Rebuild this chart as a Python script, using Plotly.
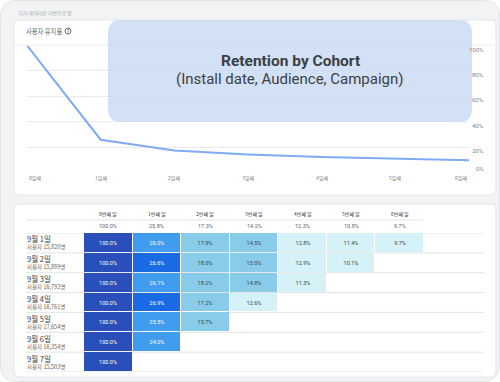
import plotly.graph_objects as go

# ---------------- data ----------------
day_ticks = ["0일째", "1일째", "2일째", "3일째", "4일째", "5일째", "6일째"]
day_cols = ["0번째 일", "1번째 일", "2번째 일", "3번째 일", "4번째 일", "5번째 일", "6번째 일"]
overall = [100.0, 25.8, 17.3, 14.2, 12.3, 10.8, 9.7]
cohort_dates = ["9월 1일", "9월 2일", "9월 3일", "9월 4일", "9월 5일", "9월 6일", "9월 7일"]
cohort_users = ["사용자 15,820명", "사용자 15,889명", "사용자 16,792명", "사용자 16,761명",
                "사용자 17,654명", "사용자 16,354명", "사용자 15,503명"]
row1 = [100.0, 26.0, 17.9, 14.5, 12.8, 11.4, 9.7]
row2 = [100.0, 26.6, 18.0, 15.0, 12.9, 10.1]
row3 = [100.0, 26.1, 18.2, 14.8, 11.3]
row4 = [100.0, 26.9, 17.2, 12.6]
row5 = [100.0, 25.5, 15.7]
row6 = [100.0, 24.0]
row7 = [100.0]
y_ticks = [0, 20, 40, 60, 80, 100]

rows = [row1, row2, row3, row4, row5, row6, row7]
W, H = 500, 382


def px(x):
    return x / W


def py(y):
    return 1 - y / H


def rrect(x0, y0, x1, y1, r):
    rx, ry = r / W, r / H
    X0, X1 = px(x0), px(x1)
    Y0, Y1 = py(y0), py(y1)  # Y0 top (bigger), Y1 bottom
    return (f"M{X0+rx},{Y0} L{X1-rx},{Y0} Q{X1},{Y0} {X1},{Y0-ry} "
            f"L{X1},{Y1+ry} Q{X1},{Y1} {X1-rx},{Y1} L{X0+rx},{Y1} "
            f"Q{X0},{Y1} {X0},{Y1+ry} L{X0},{Y0-ry} Q{X0},{Y0} {X0+rx},{Y0} Z")


FONT = "Roboto, 'Noto Sans CJK KR', sans-serif"
KFONT = "'Noto Sans CJK KR', Roboto, sans-serif"

pale, light, medium, bright, dark = "#d4f2f7", "#88cce9", "#3f9cef", "#1a6be3", "#2a4fba"
cscale = [[0, pale], [0.13, pale], [0.13, light], [0.20, light], [0.20, medium],
          [0.263, medium], [0.263, bright], [0.5, bright], [0.5, dark], [1, dark]]

ncol = len(day_cols)
z_dark_txt, z_white_txt, t_dark, t_white = [], [], [], []
for r in rows:
    zd, zw, td, tw = [], [], [], []
    for c in range(ncol):
        v = r[c] if c < len(r) else None
        if v is None:
            zd.append(None); zw.append(None); td.append(""); tw.append("")
        elif v < 20:
            zd.append(v); zw.append(None); td.append(f"{v:.1f}%"); tw.append("")
        else:
            zd.append(None); zw.append(v); td.append(""); tw.append(f"{v:.1f}%")
    z_dark_txt.append(zd); z_white_txt.append(zw); t_dark.append(td); t_white.append(tw)

fig = go.Figure()

# line chart
fig.add_trace(go.Scatter(
    x=list(range(len(overall))), y=overall, mode="lines",
    line=dict(color="#7eaaf6", width=2), hoverinfo="skip", xaxis="x", yaxis="y"))

# heatmap table
for z, t, col in [(z_dark_txt, t_dark, "#3c4043"), (z_white_txt, t_white, "#ffffff")]:
    fig.add_trace(go.Heatmap(
        z=z, x=list(range(ncol)), y=list(range(len(rows))), text=t,
        texttemplate="%{text}", textfont=dict(size=5.5, color=col, family=FONT),
        colorscale=cscale, zmin=0, zmax=100, showscale=False, xgap=1, ygap=1,
        hoverinfo="skip", xaxis="x2", yaxis="y2"))

shapes = []
# outer frame
shapes.append(dict(type="path", path=rrect(0.5, 0.5, 499.5, 381.5, 16), xref="paper", yref="paper",
                   fillcolor="#f1f3f4", line=dict(color="#e2e4e7", width=1), layer="below"))
# cards
for (y0, y1) in [(20, 195), (204, 377)]:
    shapes.append(dict(type="path", path=rrect(14, y0, 496, y1, 6), xref="paper", yref="paper",
                       fillcolor="#ffffff", line=dict(color="#e3e5e8", width=1), layer="below"))
# header separator in top card
shapes.append(dict(type="line", x0=px(14), x1=px(496), y0=py(45), y1=py(45), xref="paper", yref="paper",
                   line=dict(color="#eceef0", width=1), layer="below"))
# help icon circle
shapes.append(dict(type="circle", x0=px(65), x1=px(71), y0=py(34), y1=py(28), xref="paper", yref="paper",
                   line=dict(color="#6b6f74", width=1), layer="above"))
# table lines
shapes.append(dict(type="line", x0=px(26), x1=px(424), y0=py(220), y1=py(220), xref="paper", yref="paper",
                   line=dict(color="#e3e4e6", width=1), layer="below"))
for k in range(len(rows) + 1):
    shapes.append(dict(type="line", x0=px(26), x1=px(484), y0=k - 0.5, y1=k - 0.5, xref="paper", yref="y2",
                       line=dict(color="#e3e4e6", width=1), layer="below"))
# overlay box
shapes.append(dict(type="path", path=rrect(108, 20, 472, 122, 13), xref="paper", yref="paper",
                   fillcolor="rgba(196,215,244,0.75)", line=dict(width=0), layer="above"))

ann = []
ann.append(dict(text="기기 데이터만 기반으로 함", x=px(16), y=py(13), xref="paper", yref="paper",
                xanchor="left", yanchor="middle", showarrow=False,
                font=dict(size=5, color="#a3a7ab", family=KFONT)))
ann.append(dict(text="사용자 유지율", x=px(24), y=py(31), xref="paper", yref="paper",
                xanchor="left", yanchor="middle", showarrow=False,
                font=dict(size=6.3, color="#5f6368", family=KFONT)))
ann.append(dict(text="<b>?</b>", x=px(68), y=py(31), xref="paper", yref="paper",
                xanchor="center", yanchor="middle", showarrow=False,
                font=dict(size=4.5, color="#5f6368", family=FONT)))
ann.append(dict(text="<b>Retention by Cohort</b>", x=px(290), y=py(61), xref="paper", yref="paper",
                xanchor="center", yanchor="middle", showarrow=False,
                font=dict(size=15.5, color="#3c4043", family=FONT)))
ann.append(dict(text="(Install date, Audience, Campaign)", x=px(290), y=py(79.3), xref="paper", yref="paper",
                xanchor="center", yanchor="middle", showarrow=False,
                font=dict(size=15, color="#3c4043", family=FONT)))
# x tick labels of the retention line (first left-, last right-aligned as in the source)
for i, lab in enumerate(day_ticks):
    anchor = "left" if i == 0 else ("right" if i == len(day_ticks) - 1 else "center")
    ann.append(dict(text=lab, x=i, y=py(178), xref="x", yref="paper", xanchor=anchor, yanchor="middle",
                    xshift=-0.5 if i == 0 else 0, showarrow=False,
                    font=dict(size=5, color="#80868b", family=KFONT)))
# y tick labels on the right
for v in y_ticks:
    ann.append(dict(text=f"{v}%", x=px(486), y=v, xref="paper", yref="y", xanchor="right", yanchor="middle",
                    yshift=4 if v == 0 else -3.5, showarrow=False,
                    font=dict(size=6, color="#80868b", family=FONT)))
for i, lab in enumerate(day_cols):
    ann.append(dict(text=lab, x=i, y=py(214), xref="x2", yref="paper", xanchor="center", yanchor="middle",
                    showarrow=False, font=dict(size=5, color="#3c4043", family=KFONT)))
    ann.append(dict(text=f"{overall[i]:.1f}%", x=i, y=py(226.5), xref="x2", yref="paper", xanchor="center",
                    yanchor="middle", showarrow=False, font=dict(size=5.5, color="#5f6368", family=FONT)))
for i, (d, u) in enumerate(zip(cohort_dates, cohort_users)):
    ann.append(dict(text=d, x=px(25), y=i, yshift=4, xref="paper", yref="y2", xanchor="left",
                    yanchor="middle", showarrow=False, font=dict(size=7.5, color="#3c4043", family=KFONT)))
    ann.append(dict(text=u, x=px(25), y=i, yshift=-4.5, xref="paper", yref="y2", xanchor="left",
                    yanchor="middle", showarrow=False, font=dict(size=5.5, color="#5f6368", family=KFONT)))

fig.update_layout(
    width=W, height=H, margin=dict(l=0, r=0, t=0, b=0, pad=0, autoexpand=False),
    paper_bgcolor="#ffffff", plot_bgcolor="rgba(0,0,0,0)", showlegend=False,
    font=dict(family=FONT),
    xaxis=dict(domain=[px(27), px(469)], range=[0, 6], tickvals=list(range(7)),
               showgrid=False, zeroline=False, showline=False, ticks="", showticklabels=False,
               automargin=False, fixedrange=True),
    yaxis=dict(domain=[py(172.5), py(45.5)], range=[0, 100], tickvals=y_ticks,
               side="right", showgrid=True, gridcolor="#eaebed", showticklabels=False,
               gridwidth=1, zeroline=False, showline=False, ticks="", automargin=False, fixedrange=True),
    xaxis2=dict(domain=[px(84), px(424)], range=[-0.5, 6.5], visible=False, anchor="y2",
                automargin=False, fixedrange=True),
    yaxis2=dict(domain=[py(372), py(233)], range=[6.5, -0.5], visible=False, anchor="x2",
                automargin=False, fixedrange=True),
    shapes=shapes, annotations=ann,
)

fig.write_html("out.html", config={"displayModeBar": False},
               post_script="document.body.style.margin='0';document.body.style.overflow='hidden';")
